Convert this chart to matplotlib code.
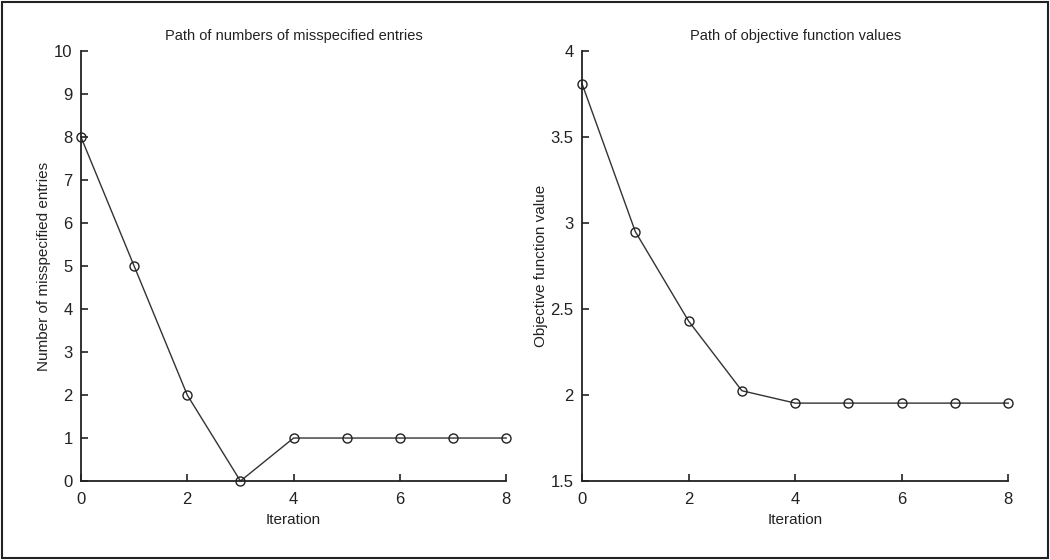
import matplotlib
matplotlib.use('Agg')
import matplotlib.pyplot as plt
from matplotlib.patches import Rectangle

plt.rcParams['font.family'] = ['Liberation Sans', 'DejaVu Sans']

iterations = [0, 1, 2, 3, 4, 5, 6, 7, 8]
misspecified = [8, 5, 2, 0, 1, 1, 1, 1, 1]
objective = [3.81, 2.95, 2.43, 2.025, 1.953, 1.953, 1.953, 1.953, 1.953]

x_ticks = [0, 2, 4, 6, 8]
left_yticks = list(range(0, 11))
right_yticks = [1.5, 2, 2.5, 3, 3.5, 4]
right_ylabels = ['1.5', '2', '2.5', '3', '3.5', '4']

fig = plt.figure(figsize=(10.5, 5.6), dpi=100)
fig.patches.append(Rectangle((0.002, 0.003), 0.996, 0.994, transform=fig.transFigure,
                             fill=False, edgecolor='#222222', linewidth=1.5))

ax1 = fig.add_axes([0.0771, 0.141, 0.405, 0.768])
ax2 = fig.add_axes([0.5543, 0.141, 0.406, 0.768])

def style(ax):
  for s in ['top', 'right']:
    ax.spines[s].set_visible(False)
  for s in ['left', 'bottom']:
    ax.spines[s].set_linewidth(1.3)
    ax.spines[s].set_color('#222222')
  ax.tick_params(direction='in', length=5, width=1.2, labelsize=12,
                 colors='#222222')
  ax.tick_params(axis='y', pad=6)
  ax.tick_params(axis='x', pad=8)
  ax.set_xlim(0, 8)
  ax.set_xticks(x_ticks)

ax1.plot(iterations, misspecified, color='#333333', linewidth=1.0, marker='o',
         markersize=6.5, markerfacecolor='none', markeredgecolor='#222222',
         markeredgewidth=1.0, clip_on=False)
style(ax1)
ax1.set_ylim(0, 10)
ax1.set_yticks(left_yticks)
ax1.set_title('Path of numbers of misspecified entries', fontsize=10.5, pad=8, color='#222222')
ax1.set_xlabel('Iteration', fontsize=11, color='#222222', labelpad=4)
ax1.set_ylabel('Number of misspecified entries', fontsize=11, color='#222222', labelpad=2)

ax2.plot(iterations, objective, color='#333333', linewidth=1.0, marker='o',
         markersize=6.5, markerfacecolor='none', markeredgecolor='#222222',
         markeredgewidth=1.0, clip_on=False)
style(ax2)
ax2.set_ylim(1.5, 4)
ax2.set_yticks(right_yticks)
ax2.set_yticklabels(right_ylabels)
ax2.set_title('Path of objective function values', fontsize=10.5, pad=8, color='#222222')
ax2.set_xlabel('Iteration', fontsize=11, color='#222222', labelpad=4)
ax2.set_ylabel('Objective function value', fontsize=11, color='#222222', labelpad=2)

fig.savefig('out.png', dpi=100, facecolor='white')
